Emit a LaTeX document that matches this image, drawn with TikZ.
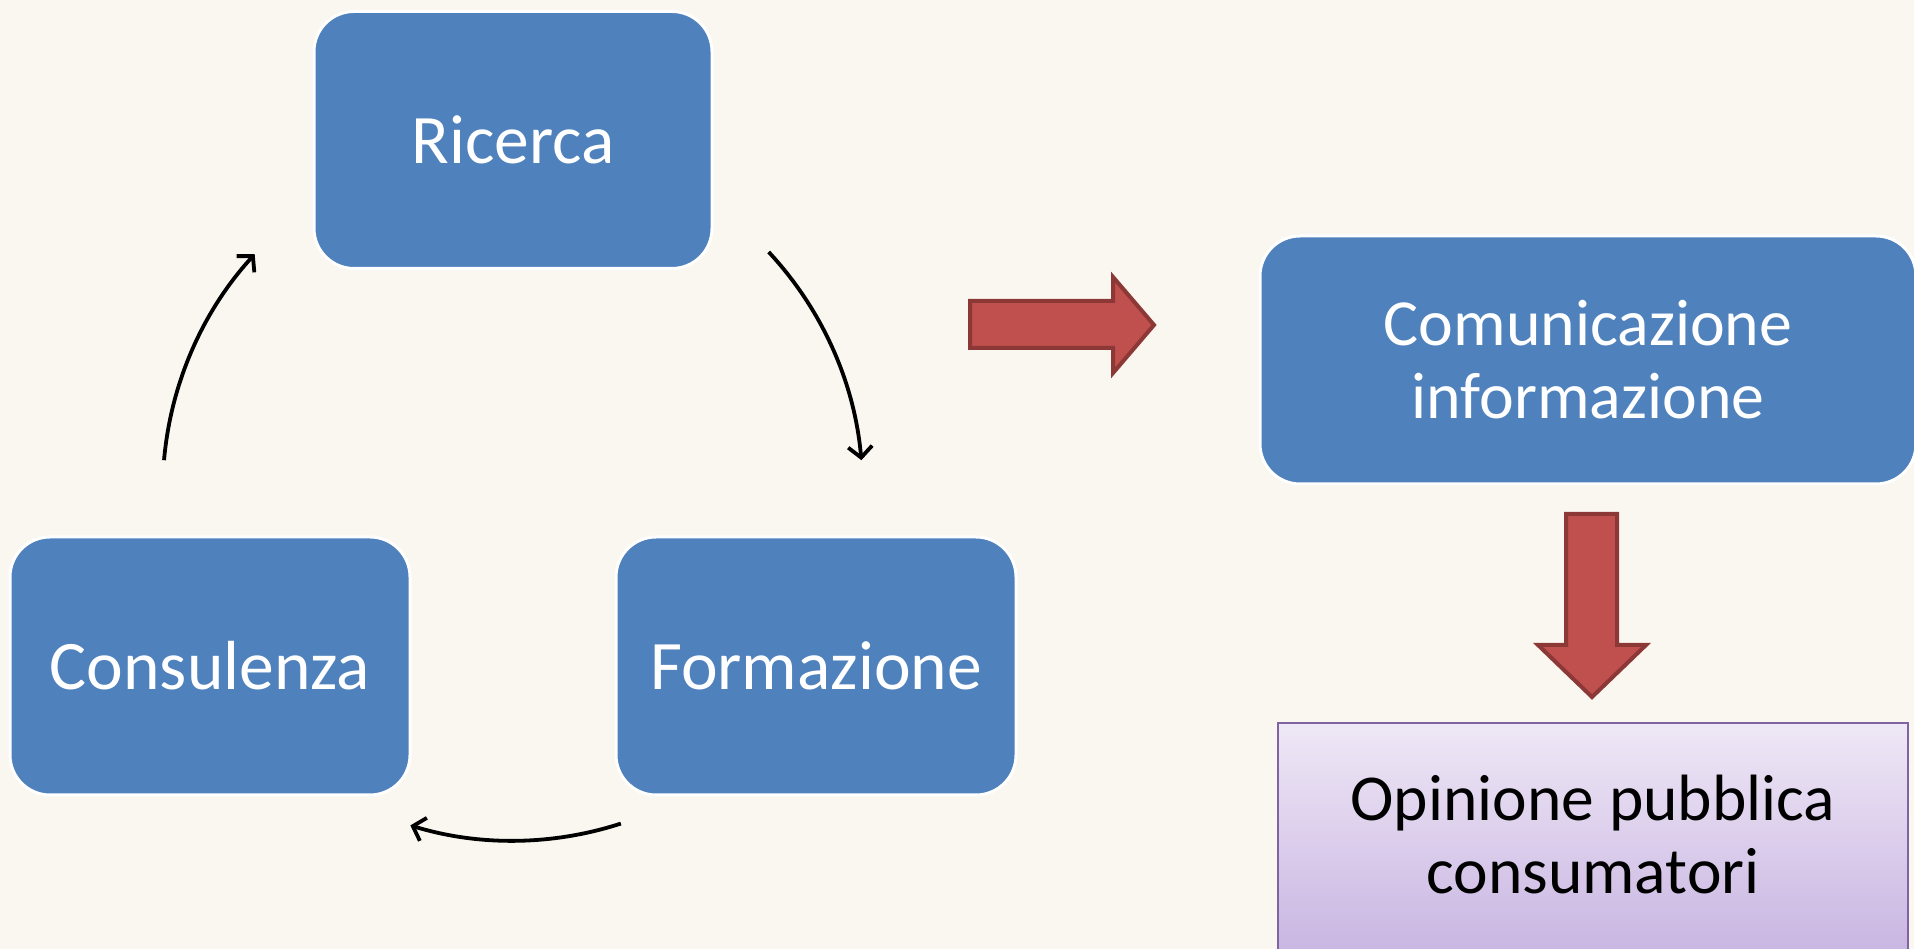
\documentclass[tikz,border=0pt]{standalone}
\usepackage{fontspec}
\setmainfont{Carlito}
\usetikzlibrary{arrows.meta,calc}
\definecolor{bgcol}{HTML}{FAF7F0}
\definecolor{boxblue}{HTML}{4F81BD}
\definecolor{redfill}{HTML}{C0504D}
\definecolor{redline}{HTML}{8C3836}
\definecolor{purpline}{HTML}{8064A2}
\definecolor{purptop}{HTML}{EFE8F6}
\definecolor{purpbot}{HTML}{C7B3E1}
\tikzset{
  bluebox/.style={draw=white, line width=3pt, fill=boxblue, rounded corners=40pt,
    text=white, align=center, font=\fontsize{69.5}{73}\selectfont},
  blockarrow/.style={draw=redline, fill=redfill, line width=4pt, line join=miter},
  cyc/.style={draw=black, line width=3.8pt, -{Straight Barb[length=11pt,width=24pt,line width=3.8pt]}},
}
\begin{document}
\begin{tikzpicture}[x=1pt,y=1pt]
\useasboundingbox (0,0) rectangle (1914,949);
\clip (0,0) rectangle (1914,949);
\fill[bgcol] (0,0) rectangle (1914,949);

% cycle boxes
\node[bluebox, minimum width=398pt, minimum height=257pt] (ric) at (513,809) {Ricerca};
\node[bluebox, minimum width=400pt, minimum height=258pt] (con) at (210,283) {Consulenza};
\node[bluebox, minimum width=400pt, minimum height=258pt] (for) at (816,283) {Formazione};

% right column
\node[bluebox, minimum width=656pt, minimum height=248pt, font=\fontsize{65.8}{73}\selectfont] (com) at (1588,589) {Comunicazione\\informazione};
\node[draw=purpline, line width=1.5pt, top color=purptop, bottom color=purpbot,
      minimum width=630pt, minimum height=240pt] (opi) at (1593,106) {};
\node[text=black, align=center, font=\fontsize{65.5}{73}\selectfont] (opit) at (1593,114) {Opinione pubblica\\consumatori};

% cycle arcs
\coordinate (cc) at (512.7,458.3);
\coordinate (a1) at ($(cc)+(43:350)$);
\coordinate (a2) at ($(cc)+(-72:350)$);
\coordinate (a3) at ($(cc)+(175:350)$);
\draw[cyc] (a1) arc[start angle=43, end angle=5, radius=350];
\draw[cyc] (a2) arc[start angle=-72, end angle=-107, radius=350];
\draw[cyc] (a3) arc[start angle=175, end angle=137.5, radius=350];

% block arrows
\draw[blockarrow] (970,648) -- (1113,648) -- (1113,672) -- (1154,624) -- (1113,576) -- (1113,601) -- (970,601) -- cycle;
\draw[blockarrow] (1566,435) -- (1617,435) -- (1617,304) -- (1646,304) -- (1592,252) -- (1538,304) -- (1566,304) -- cycle;
\end{tikzpicture}
\end{document}
